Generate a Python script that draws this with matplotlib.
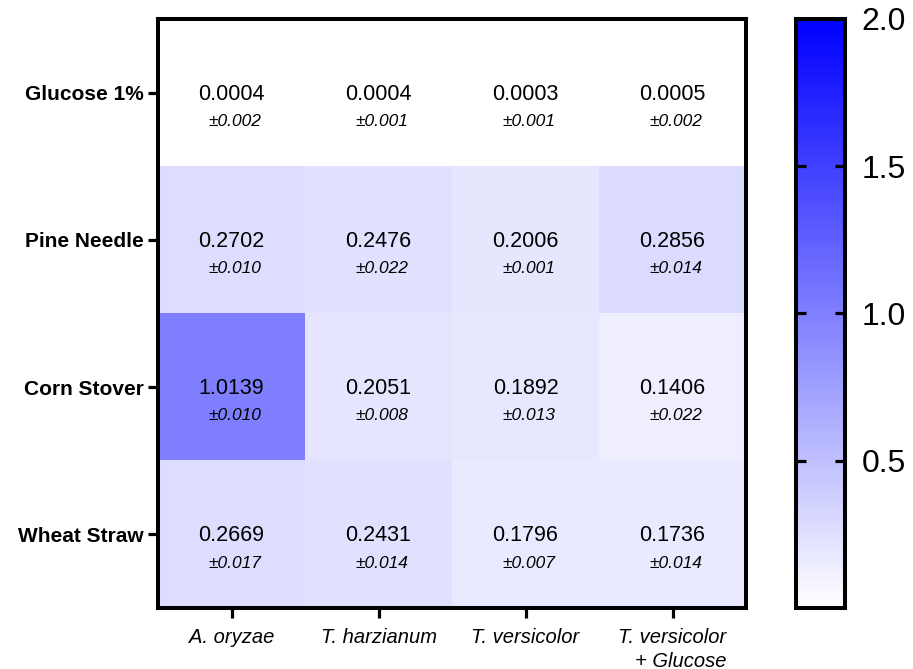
import matplotlib
matplotlib.use("Agg")
import matplotlib.pyplot as plt
import numpy as np
from matplotlib.colors import LinearSegmentedColormap

plt.rcParams['font.family'] = ['Liberation Sans', 'DejaVu Sans']

substrates = ["Glucose 1%", "Pine Needle", "Corn Stover", "Wheat Straw"]
fungi = ["A. oryzae", "T. harzianum", "T. versicolor", "T. versicolor\n+ Glucose"]

glucose_vals = [0.0004, 0.0004, 0.0003, 0.0005]
pine_vals = [0.2702, 0.2476, 0.2006, 0.2856]
corn_vals = [1.0139, 0.2051, 0.1892, 0.1406]
wheat_vals = [0.2669, 0.2431, 0.1796, 0.1736]

glucose_err = [0.002, 0.001, 0.001, 0.002]
pine_err = [0.010, 0.022, 0.001, 0.014]
corn_err = [0.010, 0.008, 0.013, 0.022]
wheat_err = [0.017, 0.014, 0.007, 0.014]

cbar_ticks = [0.5, 1.0, 1.5, 2.0]

values = np.array([glucose_vals, pine_vals, corn_vals, wheat_vals])
errors = np.array([glucose_err, pine_err, corn_err, wheat_err])

cmap = LinearSegmentedColormap.from_list("wb", ["#ffffff", "#0000ff"])

fig = plt.figure(figsize=(9.13, 6.69), dpi=100)
ax = fig.add_axes([0.1731, 0.0912, 0.644, 0.8804])
cax = fig.add_axes([0.8718, 0.0912, 0.0537, 0.8804])

im = ax.imshow(values, cmap=cmap, vmin=0, vmax=2.0, aspect='auto',
               interpolation='nearest')

for i in range(values.shape[0]):
    for j in range(values.shape[1]):
        ax.text(j, i + 0.01, f"{values[i, j]:.4f}", ha='center', va='center',
                fontsize=15.5, color='black')
        ax.text(j + 0.02, i + 0.195, f"\u00b1{errors[i, j]:.3f}", ha='center', va='center',
                fontsize=12.5, style='italic', color='black')

ax.set_xticks(range(len(fungi)))
ax.set_xticklabels(fungi, fontsize=14.5, style='italic', multialignment='right',
                   linespacing=1.3)
ax.set_yticks(range(len(substrates)))
ax.set_yticklabels(substrates, fontsize=15, fontweight='bold')
ax.tick_params(axis='x', direction='out', length=7.5, width=2.3, pad=7)
ax.tick_params(axis='y', direction='out', length=7.5, width=2.3, pad=3)
for s in ax.spines.values():
    s.set_linewidth(2.9)

cb = fig.colorbar(im, cax=cax)
cb.set_ticks(cbar_ticks)
cb.set_ticklabels([f"{t:.1f}" for t in cbar_ticks])
cax.tick_params(direction='in', left=True, right=True, length=7, width=2.3,
                labelsize=23, pad=12)
cb.outline.set_linewidth(2.9)

fig.savefig("out.png", dpi=100)
